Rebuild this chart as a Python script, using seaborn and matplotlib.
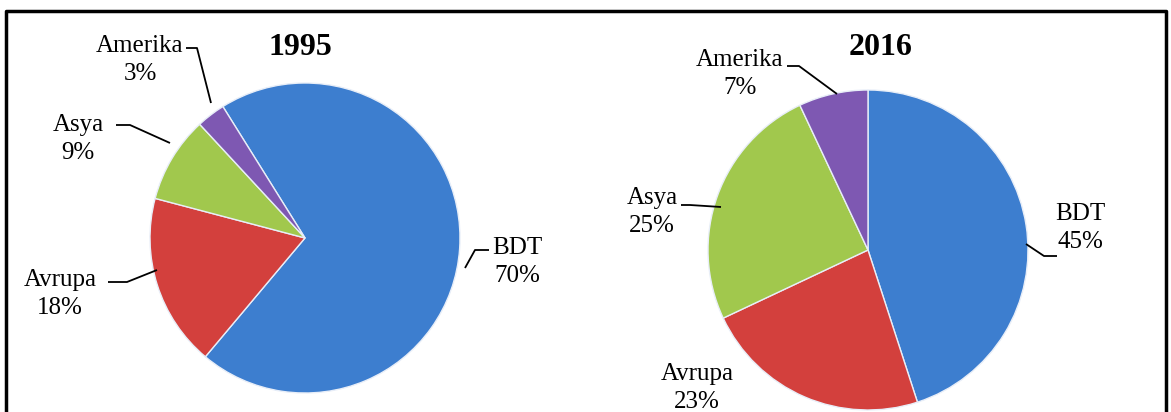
import numpy as np
import matplotlib
matplotlib.use('Agg')
import matplotlib.pyplot as plt
import seaborn as sns

# Data
regions = ['BDT', 'Avrupa', 'Asya', 'Amerika']
shares_1995 = [70, 18, 9, 3]
shares_2016 = [45, 23, 25, 7]
years = ['1995', '2016']

colors = ['#3D7ECF', '#D3403D', '#A1C84D', '#7E58B2']

sns.set_theme(style='white')
plt.rcParams['font.family'] = ['Liberation Serif', 'DejaVu Serif']

W, H = 1171, 412
fig = plt.figure(figsize=(W / 100, H / 100), dpi=100)
ax = fig.add_axes([0, 0, 1, 1])

# pie layout in pixel space (y axis inverted, so angles are mirrored:
# start is given as the on-screen angle, drawn clockwise on screen)
pies = [
    dict(vals=shares_1995, cx=305, cy=238, r=155, start=122, title_xy=(300, 47)),
    dict(vals=shares_2016, cx=868, cy=250, r=160, start=90, title_xy=(881, 47)),
]

# label text centre and leader line (text side -> elbow -> pie edge)
labels_1995 = {
    'BDT': dict(xy=(517, 262), line=[(489, 250), (475, 250), (465, 268)]),
    'Avrupa': dict(xy=(60, 294), line=[(108, 282), (127, 282), (157, 270)]),
    'Asya': dict(xy=(78, 139), line=[(116, 125), (130, 125), (170, 143)]),
    'Amerika': dict(xy=(140, 60), line=[(186, 48), (197, 48), (211, 103)]),
}
labels_2016 = {
    'BDT': dict(xy=(1080, 228), line=[(1057, 256), (1044, 256), (1026, 244)]),
    'Avrupa': dict(xy=(697, 388), line=None),
    'Asya': dict(xy=(652, 212), line=[(681, 205), (690, 205), (721, 207)]),
    'Amerika': dict(xy=(740, 74), line=[(787, 66), (799, 66), (837, 94)]),
}

for p, labs, year in zip(pies, [labels_1995, labels_2016], years):
    ax.pie(p['vals'], colors=colors, startangle=-p['start'],
           counterclock=True, center=(p['cx'], p['cy']),
           radius=p['r'], frame=True,
           wedgeprops=dict(edgecolor='#e8eef8', linewidth=1.0))
    for name, val in zip(regions, p['vals']):
        lab = labs[name]
        ax.text(lab['xy'][0], lab['xy'][1], f'{name}\n{val}%', ha='center',
                va='center', fontsize=18, linespacing=1.35, color='black')
        if lab['line']:
            xs, ys = zip(*lab['line'])
            ax.plot(xs, ys, color='black', lw=1.3, solid_capstyle='butt')
    ax.text(p['title_xy'][0], p['title_xy'][1], year, ha='center', va='center',
            fontsize=23, fontweight='bold', color='black')

ax.set_xlim(0, W)
ax.set_ylim(H, 0)
ax.set_aspect('equal')
ax.axis('off')

# outer frame
ax.plot([6, 6, 1166, 1166], [H + 5, 11, 11, H + 5], color='black', lw=2.5,
        clip_on=False)

fig.savefig('out.png', dpi=100)
